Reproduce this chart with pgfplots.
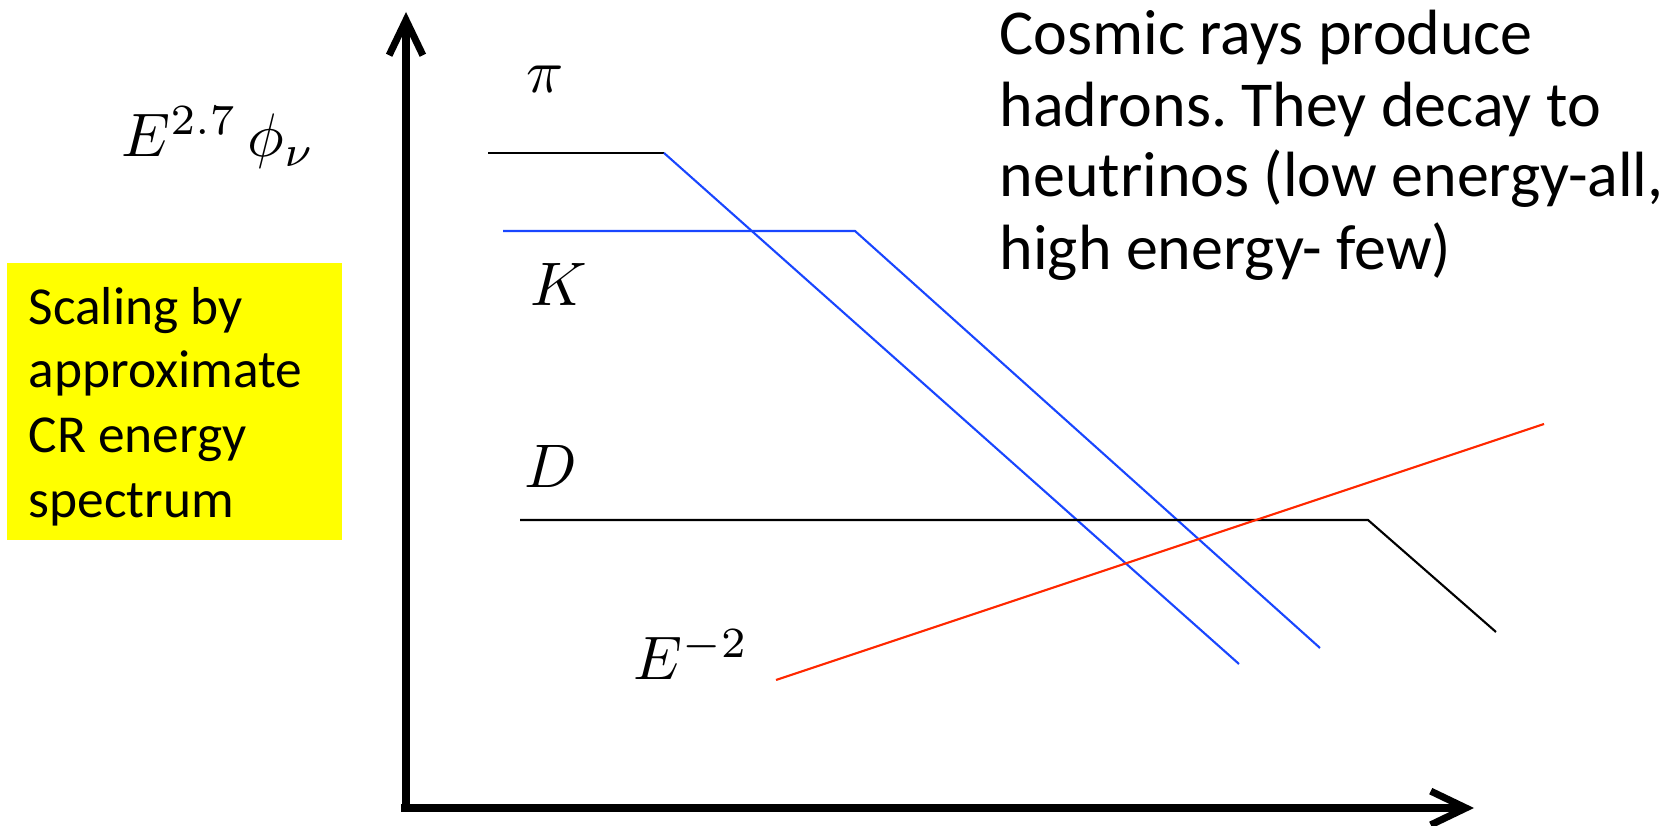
\documentclass[border=0pt]{standalone}
\usepackage{fontspec}
\setmainfont{Carlito}
\usepackage{graphicx}
\usepackage{pgfplots}
\pgfplotsset{compat=1.18}
\usetikzlibrary{arrows.meta}
\definecolor{lblue}{RGB}{25,70,255}
\definecolor{lred}{RGB}{255,40,0}
\definecolor{lyellow}{RGB}{255,255,0}
\frenchspacing
\newcommand{\ml}[1]{\scalebox{1.75}{\fontsize{10}{12}\selectfont$#1$}}
\begin{document}
\begin{tikzpicture}
\begin{axis}[
  scale only axis, width=16.74cm, height=8.26cm,
  xmin=0, xmax=1674, ymin=0, ymax=826, y dir=reverse,
  hide axis, clip=false]
% invisible frame
\addplot[draw=none] coordinates {(0,0) (1674,826)};
% yellow box
\fill[lyellow] (axis cs:7,263) rectangle (axis cs:342,540);
% axes
\addplot[black, line width=2pt, -{Straight Barb[length=10pt,width=9.6pt,line width=2pt]}]
  coordinates {(406,811) (406,12)};
\addplot[black, line width=2pt, -{Straight Barb[length=10pt,width=9.6pt,line width=2pt]}]
  coordinates {(401,808) (1474,808)};
% pi
\addplot[black, line width=0.6pt] coordinates {(488,153) (664,153)};
\addplot[lblue, line width=0.6pt] coordinates {(664,153) (1239,664)};
% K
\addplot[lblue, line width=0.6pt] coordinates {(503,231) (855,231) (1320,648)};
% D
\addplot[black, line width=0.6pt] coordinates {(520,520) (1368,520) (1496,632)};
% E^-2
\addplot[lred, line width=0.6pt] coordinates {(776,680) (1544,424)};
% labels
\node[anchor=base west, inner sep=0pt] at (axis cs:526,93) {\ml{\pi}};
\node[anchor=base west, inner sep=0pt] at (axis cs:530,306) {\ml{K}};
\node[anchor=base west, inner sep=0pt] at (axis cs:524,488) {\ml{D}};
\node[anchor=base west, inner sep=0pt] at (axis cs:633,680) {\ml{E^{-2}}};
\node[anchor=base west, inner sep=0pt] at (axis cs:121,157) {\ml{E^{2.7}\,\phi_\nu}};
% top right text
\node[anchor=base west, inner sep=0pt, font=\fontsize{18.2}{20}\selectfont] at (axis cs:999,55) {Cosmic rays produce};
\node[anchor=base west, inner sep=0pt, font=\fontsize{18.2}{20}\selectfont] at (axis cs:999,127) {hadrons. They decay to};
\node[anchor=base west, inner sep=0pt, font=\fontsize{18.2}{20}\selectfont] at (axis cs:999,197) {neutrinos (low energy-all,};
\node[anchor=base west, inner sep=0pt, font=\fontsize{18.2}{20}\selectfont] at (axis cs:999,270) {high energy- few)};
% yellow text
\node[anchor=base west, inner sep=0pt, font=\fontsize{15.2}{17}\selectfont] at (axis cs:28,325) {Scaling by};
\node[anchor=base west, inner sep=0pt, font=\fontsize{15.2}{17}\selectfont] at (axis cs:28,388) {approximate};
\node[anchor=base west, inner sep=0pt, font=\fontsize{15.2}{17}\selectfont] at (axis cs:28,453) {CR energy};
\node[anchor=base west, inner sep=0pt, font=\fontsize{15.2}{17}\selectfont] at (axis cs:28,518) {spectrum};
\end{axis}
\pgfresetboundingbox
\path (0,0) rectangle (16.74cm,8.26cm);
\end{tikzpicture}
\end{document}
